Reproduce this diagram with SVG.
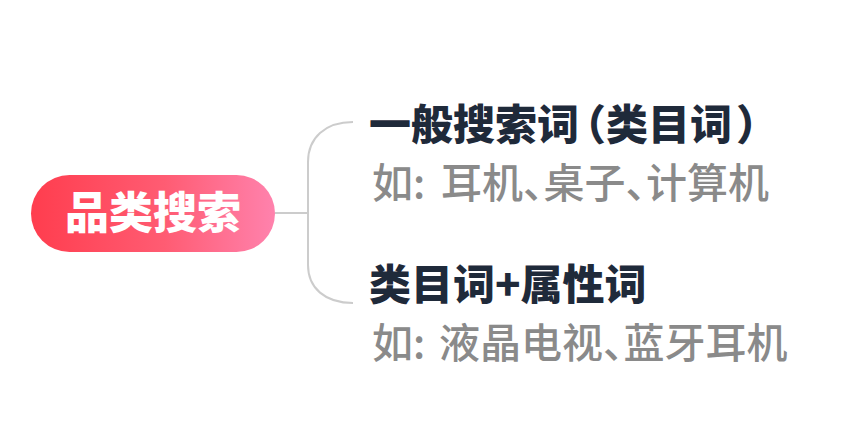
<svg xmlns="http://www.w3.org/2000/svg" width="868" height="448" viewBox="0 0 868 448">
  <defs>
    <linearGradient id="pillGrad" x1="0" y1="0" x2="1" y2="0">
      <stop offset="0" stop-color="#FF3D4E"/>
      <stop offset="0.55" stop-color="#FF5C73"/>
      <stop offset="1" stop-color="#FF82AD"/>
    </linearGradient>
    <style>
      .cjk { font-family: "Noto Sans CJK SC", "Noto Sans", sans-serif; font-feature-settings: "halt" 1; }
      .root-label { font-size: 44px; font-weight: 900; fill: #FFFFFF; }
      .title { font-size: 42px; font-weight: 900; fill: #1F2A3A; }
      .sub { font-size: 41px; font-weight: 500; fill: #8A8A8A; }
      .conn { fill: none; stroke: #CCCCCC; stroke-width: 2; }
    </style>
  </defs>
  <rect width="868" height="448" fill="#FFFFFF"/>

  <g id="connectors">
    <path class="conn" d="M275 213 H308"/>
    <path class="conn" d="M353 122 C325 122 308 138 308 162 V265 C308 288 325 303 353 303"/>
  </g>

  <g id="root">
    <rect x="31" y="175" width="244" height="77" rx="38.5" fill="url(#pillGrad)"/>
    <text class="cjk root-label" x="153" y="229" text-anchor="middle">品类搜索</text>
  </g>

  <g id="node-general">
    <text class="cjk title" x="369" y="140">一般搜索词<tspan dx="6">（类目词</tspan><tspan dx="4">）</tspan></text>
    <text class="cjk sub" x="372" y="198">如: <tspan x="441">耳机、桌子、计算机</tspan></text>
  </g>

  <g id="node-attribute">
    <text class="cjk title" x="369" y="300">类目词+属性词</text>
    <text class="cjk sub" x="372" y="358">如: <tspan x="439">液晶电视、蓝牙耳机</tspan></text>
  </g>
</svg>
